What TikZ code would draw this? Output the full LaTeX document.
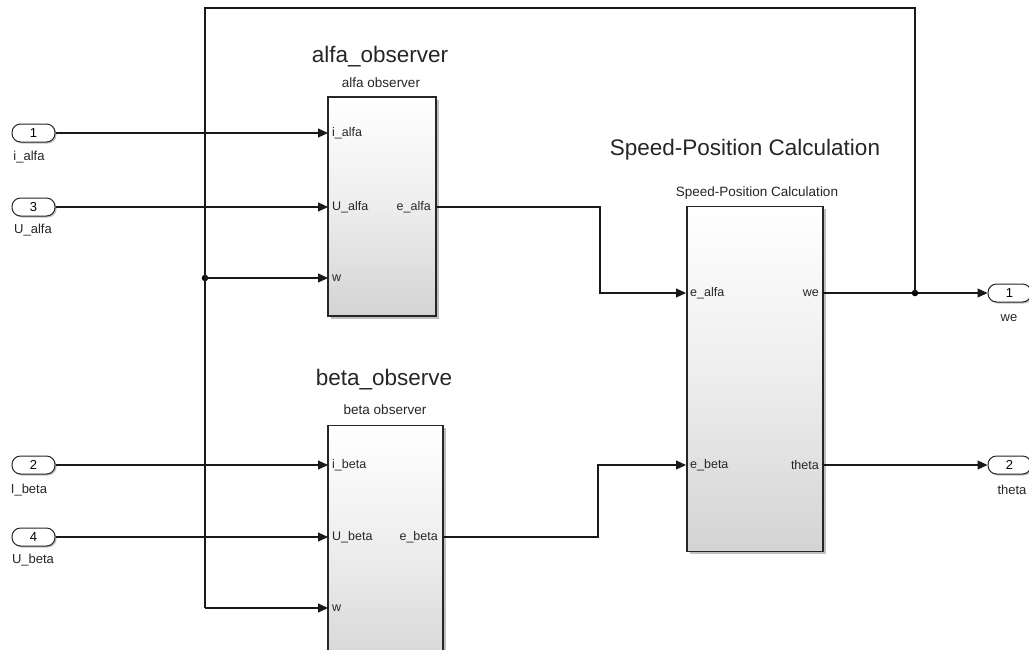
\documentclass[tikz,border=0pt]{standalone}
\usepackage{fontspec}
\setmainfont{Liberation Sans}
\usetikzlibrary{arrows.meta,shadows,positioning}
\begin{document}
\begin{tikzpicture}[x=1pt,y=-1pt,
  wire/.style={draw=black!90,line width=1.1pt},
  arr/.style={wire,-{Triangle[length=10pt,width=9pt]}},
  blk/.style={draw=black!85,line width=1.3pt,top color=white,bottom color=black!17,
     middle color=white!93!black,
     drop shadow={shadow xshift=2.5pt,shadow yshift=-2.5pt,opacity=0.25,fill=black},
     inner sep=0pt},
  port/.style={draw=black!85,line width=1pt,rounded corners=8.5pt,fill=white,
     minimum width=43pt,minimum height=18pt,inner sep=0pt,
     font=\fontsize{13}{15}\selectfont,
     drop shadow={shadow xshift=1.5pt,shadow yshift=-1.5pt,opacity=0.25,fill=black}},
  plab/.style={font=\fontsize{13}{15}\selectfont,text=black!85,inner sep=0pt},
  ilab/.style={font=\fontsize{12.5}{14}\selectfont,text=black!85,inner sep=0pt},
  big/.style={font=\fontsize{22.5}{25}\selectfont,text=black!85,inner sep=0pt},
  small/.style={font=\fontsize{13.5}{15}\selectfont,text=black!85,inner sep=0pt},
  dot/.style={circle,fill=black,inner sep=0pt,minimum size=6.5pt}]
\useasboundingbox (0,0) rectangle (1029,649);
\clip (0,0) rectangle (1029,649);
\fill[white] (0,0) rectangle (1029,649);

% blocks
\node[blk,minimum width=108pt,minimum height=219pt] (alfa) at (382,206.5) {};
\node[blk,minimum width=115pt,minimum height=250pt] (beta) at (385.5,550.7) {};
\node[blk,minimum width=136pt,minimum height=345pt] (spc) at (755,379) {};

% titles
\node[big] (talfa) at (380,57) {alfa\_observer};
\node[small] (salfa) at (381,83) {alfa observer};
\node[big] (tbeta) at (384,380) {beta\_observe};
\node[small] (sbeta) at (385,410) {beta observer};
\node[big] (tspc) at (745,150) {Speed-Position Calculation};
\node[small] (sspc) at (757,193) {Speed-Position Calculation};

% port labels inside blocks
\node[ilab,anchor=west] (la1) at (332,133) {i\_alfa};
\node[ilab,anchor=west] (la2) at (332,207) {U\_alfa};
\node[ilab,anchor=west] (la3) at (332,278) {w};
\node[ilab,anchor=east] (la4) at (431,207) {e\_alfa};
\node[ilab,anchor=west] (lb1) at (332,465) {i\_beta};
\node[ilab,anchor=west] (lb2) at (332,537) {U\_beta};
\node[ilab,anchor=west] (lb3) at (332,608) {w};
\node[ilab,anchor=east] (lb4) at (438,537) {e\_beta};
\node[ilab,anchor=west] (ls1) at (690,293) {e\_alfa};
\node[ilab,anchor=west] (ls2) at (690,465) {e\_beta};
\node[ilab,anchor=east] (ls3) at (819,293) {we};
\node[ilab,anchor=east] (ls4) at (819,465) {theta};

% input ports
\node[port] (in1) at (33.5,133) {1};
\node[plab] (n1) at (29,157) {i\_alfa};
\node[port] (in3) at (33.5,207) {3};
\node[plab] (n3) at (33,230) {U\_alfa};
\node[port] (in2) at (33.5,465) {2};
\node[plab] (n2) at (29,490) {I\_beta};
\node[port] (in4) at (33.5,537) {4};
\node[plab] (n4) at (33,560) {U\_beta};

% output ports
\node[port] (out1) at (1009.5,293) {1};
\node[plab] (m1) at (1009,318) {we};
\node[port] (out2) at (1009.5,465) {2};
\node[plab] (m2) at (1012,490) {theta};

% coordinates
\coordinate (ai) at (328,133);
\coordinate (au) at (328,207);
\coordinate (aw) at (328,278);
\coordinate (ae) at (436,207);
\coordinate (bi) at (328,465);
\coordinate (bu) at (328,537);
\coordinate (bw) at (328,608);
\coordinate (be) at (443,537);
\coordinate (sa) at (686,293);
\coordinate (sb) at (686,465);
\coordinate (sw) at (823,293);
\coordinate (st) at (823,465);
\coordinate (tl) at (205,8);
\coordinate (tr) at (915,8);
\coordinate (lb) at (205,608);
\coordinate (ca) at (600,207);
\coordinate (cb) at (598,537);

% wires
\draw[arr] (in1) -- (ai);
\draw[arr] (in3) -- (au);
\draw[arr] (in2) -- (bi);
\draw[arr] (in4) -- (bu);
\draw[arr] (ae) -- (ca) |- (sa);
\draw[arr] (be) -- (cb) |- (sb);
\draw[arr] (sw) -- (out1.west);
\draw[arr] (st) -- (out2.west);
\node[dot] (j2) at (915,293) {};
\node[dot] (j1) at (205,278) {};
\draw[wire] (j2.center) -- (tr) -- (tl) -- (lb);
\draw[arr] (lb) -- (bw);
\draw[arr] (j1.center) -- (aw);
\end{tikzpicture}
\end{document}
